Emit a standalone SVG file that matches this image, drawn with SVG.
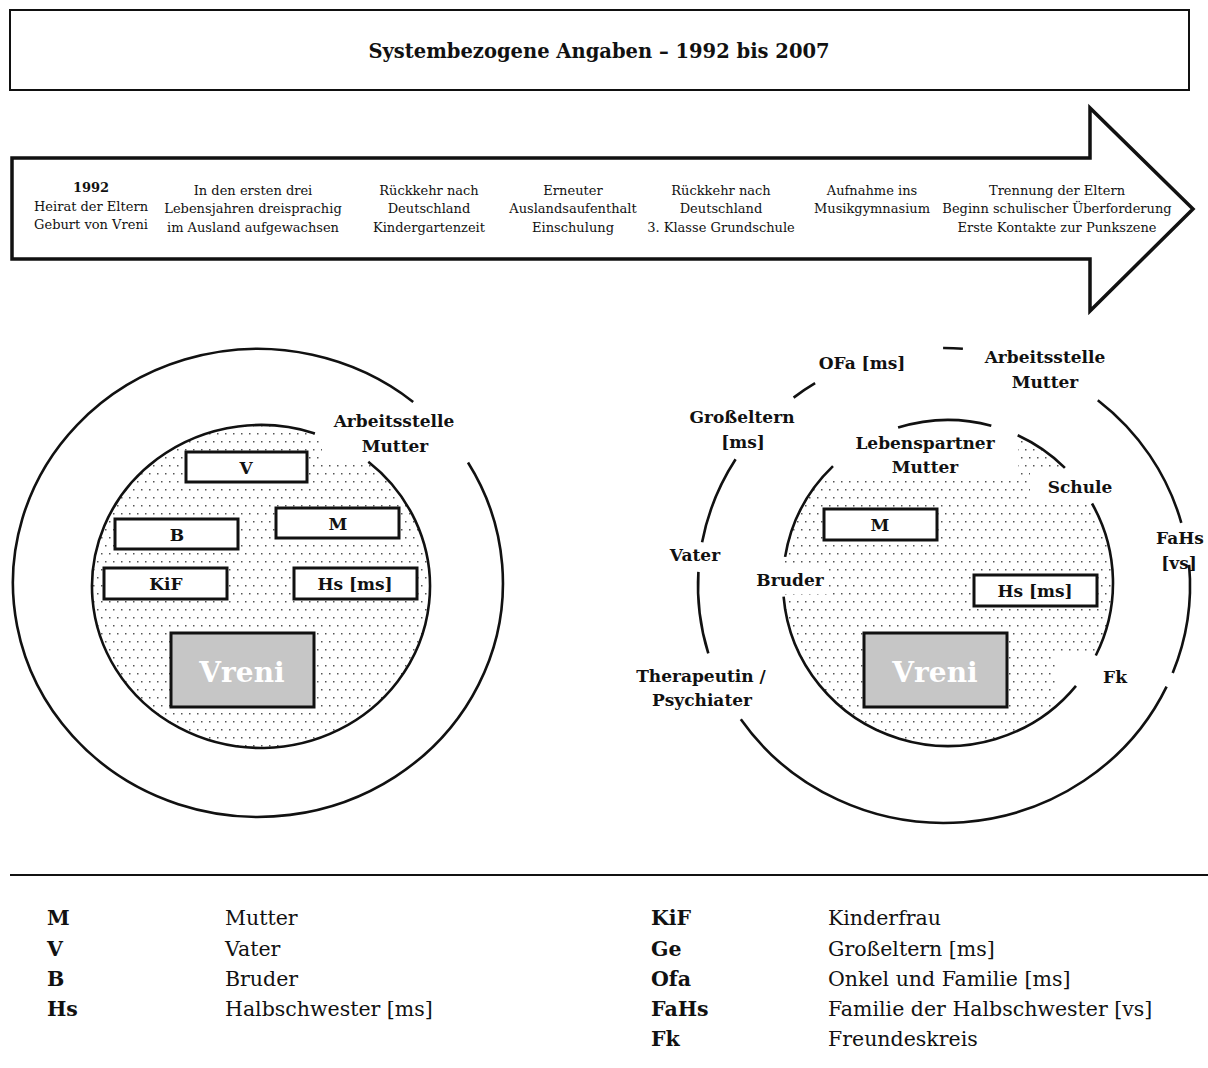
<svg xmlns="http://www.w3.org/2000/svg" width="1208" height="1068" viewBox="0 0 1208 1068">
<defs>
<pattern id="dots" width="8" height="16" patternUnits="userSpaceOnUse">
<rect x="1" y="1" width="1.5" height="1.5" fill="#555"/>
<rect x="5" y="9" width="1.5" height="1.5" fill="#555"/>
</pattern>
<style>
.t{font-family:"DejaVu Serif","Liberation Serif",serif;fill:#111}
.tl{font-size:13px;text-anchor:middle}
.lb{font-size:17px;font-weight:bold;text-anchor:middle}
.box{fill:#fff;stroke:#111;stroke-width:3}
.vb{fill:#c6c6c6;stroke:#111;stroke-width:3}
.vt{font-family:"DejaVu Serif","Liberation Serif",serif;font-size:28px;font-weight:bold;fill:#fff;text-anchor:middle}
.ring{fill:none;stroke:#111;stroke-width:2.6}
.lg{font-size:20.5px}
.lgb{font-size:20.5px;font-weight:bold}
</style>
</defs>
<rect width="1208" height="1068" fill="#fff"/>

<g id="title">
<rect x="10" y="10" width="1179" height="80" fill="#fff" stroke="#111" stroke-width="2"/>
<text class="t" x="599" y="58" font-size="19.5" font-weight="bold" text-anchor="middle">Systembezogene Angaben – 1992 bis 2007</text>
</g>

<g id="timeline">
<path d="M12,158 L1090,158 L1090,108 L1193,209 L1090,311 L1090,259 L12,259 Z" fill="#fff" stroke="#111" stroke-width="3.5" stroke-linejoin="miter"/>
<text class="t tl" x="91"><tspan x="91" y="192" font-weight="bold">1992</tspan><tspan x="91" y="211">Heirat der Eltern</tspan><tspan x="91" y="229">Geburt von Vreni</tspan></text>
<text class="t tl"><tspan x="253" y="195">In den ersten drei</tspan><tspan x="253" y="213">Lebensjahren dreisprachig</tspan><tspan x="253" y="232">im Ausland aufgewachsen</tspan></text>
<text class="t tl"><tspan x="429" y="195">Rückkehr nach</tspan><tspan x="429" y="213">Deutschland</tspan><tspan x="429" y="232">Kindergartenzeit</tspan></text>
<text class="t tl"><tspan x="573" y="195">Erneuter</tspan><tspan x="573" y="213">Auslandsaufenthalt</tspan><tspan x="573" y="232">Einschulung</tspan></text>
<text class="t tl"><tspan x="721" y="195">Rückkehr nach</tspan><tspan x="721" y="213">Deutschland</tspan><tspan x="721" y="232">3. Klasse Grundschule</tspan></text>
<text class="t tl"><tspan x="872" y="195">Aufnahme ins</tspan><tspan x="872" y="213">Musikgymnasium</tspan></text>
<text class="t tl"><tspan x="1057" y="195">Trennung der Eltern</tspan><tspan x="1057" y="213">Beginn schulischer Überforderung</tspan><tspan x="1057" y="232">Erste Kontakte zur Punkszene</tspan></text>
</g>

<g id="left-system">
<ellipse cx="261" cy="586.5" rx="169" ry="161.5" fill="url(#dots)"/>
<rect x="322" y="404" width="140" height="56" fill="#fff"/>
<path class="ring" d="M468,462.5 A245,234 0 1 1 413.2,401.9"/>
<path class="ring" d="M368.3,461.7 A169,161.5 0 1 1 314.9,433.4"/>
<g id="L-arbeitsstelle"><text class="t lb"><tspan x="394" y="427">Arbeitsstelle</tspan><tspan x="395" y="452">Mutter</tspan></text></g>
<g id="L-V"><rect class="box" x="186" y="452" width="121" height="30"/><text class="t lb" x="246" y="474">V</text></g>
<g id="L-B"><rect class="box" x="115" y="519" width="123" height="30"/><text class="t lb" x="177" y="541">B</text></g>
<g id="L-M"><rect class="box" x="276" y="508" width="123" height="30"/><text class="t lb" x="338" y="530">M</text></g>
<g id="L-KiF"><rect class="box" x="104" y="568" width="123" height="31"/><text class="t lb" x="166" y="590">KiF</text></g>
<g id="L-Hs"><rect class="box" x="294" y="568" width="123" height="31"/><text class="t lb" x="355" y="590">Hs [ms]</text></g>
<g id="L-Vreni"><rect class="vb" x="171" y="633" width="143" height="74"/><text class="vt" x="242" y="682">Vreni</text></g>
</g>

<g id="right-system">
<ellipse cx="948" cy="583" rx="165" ry="163" fill="url(#dots)"/>
<rect x="800" y="410" width="218" height="68" fill="#fff"/>
<rect x="1030" y="468" width="90" height="37" fill="#fff"/>
<rect x="752" y="566" width="76" height="28" fill="#fff"/>
<rect x="1055" y="655" width="115" height="45" fill="#fff"/>
<path class="ring" d="M943.1,348 A246,237.5 0 0 1 962.9,348.7"/>
<path class="ring" d="M793.6,397.6 A246,237.5 0 0 1 815.1,383.2"/>
<path class="ring" d="M702.1,542.2 A246,237.5 0 0 1 735.6,459.3"/>
<path class="ring" d="M708.3,653.4 A246,237.5 0 0 1 698.4,571.8"/>
<path class="ring" d="M1166.6,686.6 A246,237.5 0 0 1 740.8,719.3"/>
<path class="ring" d="M1189.1,564.8 A246,237.5 0 0 1 1172.7,672.9"/>
<path class="ring" d="M1097.8,400.2 A246,237.5 0 0 1 1181.3,522.8"/>
<path class="ring" d="M898.1,427.6 A165,163 0 0 1 991.3,425.7"/>
<path class="ring" d="M1017.7,435.3 A165,163 0 0 1 1064.9,467.9"/>
<path class="ring" d="M1092,503.5 A165,163 0 0 1 1095.8,655.5"/>
<path class="ring" d="M1076,685.8 A165,163 0 0 1 783.6,596.6"/>
<path class="ring" d="M785.1,556.9 A165,163 0 0 1 833,466.1"/>
<g id="R-OFa"><text class="t lb" x="862" y="369">OFa [ms]</text></g>
<g id="R-arbeitsstelle"><text class="t lb"><tspan x="1045" y="363">Arbeitsstelle</tspan><tspan x="1045" y="388">Mutter</tspan></text></g>
<g id="R-grosseltern"><text class="t lb"><tspan x="742" y="423">Großeltern</tspan><tspan x="743" y="448">[ms]</tspan></text></g>
<g id="R-lebenspartner"><text class="t lb"><tspan x="925" y="449">Lebenspartner</tspan><tspan x="925" y="473">Mutter</tspan></text></g>
<g id="R-schule"><text class="t lb" x="1080" y="493">Schule</text></g>
<g id="R-FaHs"><text class="t lb"><tspan x="1180" y="544">FaHs</tspan><tspan x="1179" y="569">[vs]</tspan></text></g>
<g id="R-vater"><text class="t lb" x="695" y="561">Vater</text></g>
<g id="R-bruder"><text class="t lb" x="790" y="586">Bruder</text></g>
<g id="R-therapeutin"><text class="t lb"><tspan x="701" y="682">Therapeutin /</tspan><tspan x="702" y="706">Psychiater</tspan></text></g>
<g id="R-Fk"><text class="t lb" x="1115" y="683">Fk</text></g>
<g id="R-M"><rect class="box" x="824" y="509" width="113" height="31"/><text class="t lb" x="880" y="531">M</text></g>
<g id="R-Hs"><rect class="box" x="974" y="575" width="123" height="31"/><text class="t lb" x="1035" y="597">Hs [ms]</text></g>
<g id="R-Vreni"><rect class="vb" x="864" y="633" width="143" height="74"/><text class="vt" x="935" y="682">Vreni</text></g>
</g>

<g id="legend">
<line x1="10" y1="875" x2="1208" y2="875" stroke="#111" stroke-width="2"/>
<text class="t lgb"><tspan x="47" y="925">M</tspan><tspan x="47" y="956">V</tspan><tspan x="47" y="986">B</tspan><tspan x="47" y="1016">Hs</tspan></text>
<text class="t lg"><tspan x="225" y="925">Mutter</tspan><tspan x="225" y="956">Vater</tspan><tspan x="225" y="986">Bruder</tspan><tspan x="225" y="1016">Halbschwester [ms]</tspan></text>
<text class="t lgb"><tspan x="651" y="925">KiF</tspan><tspan x="651" y="956">Ge</tspan><tspan x="651" y="986">Ofa</tspan><tspan x="651" y="1016">FaHs</tspan><tspan x="651" y="1046">Fk</tspan></text>
<text class="t lg"><tspan x="828" y="925">Kinderfrau</tspan><tspan x="828" y="956">Großeltern [ms]</tspan><tspan x="828" y="986">Onkel und Familie [ms]</tspan><tspan x="828" y="1016">Familie der Halbschwester [vs]</tspan><tspan x="828" y="1046">Freundeskreis</tspan></text>
</g>
</svg>
